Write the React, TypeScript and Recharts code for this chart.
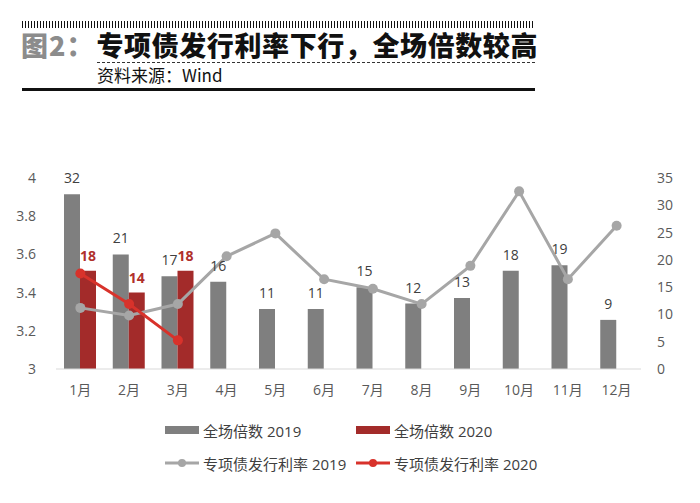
import React from "react";
import {
  ComposedChart,
  Bar,
  Line,
  XAxis,
  YAxis,
  LabelList,
} from "recharts";

const months = ["1月", "2月", "3月", "4月", "5月", "6月", "7月", "8月", "9月", "10月", "11月", "12月"];
const multiple2019 = [32, 21, 17, 16, 11, 11, 15, 12, 13, 18, 19, 9];
const multiple2020 = [18, 14, 18, null, null, null, null, null, null, null, null, null];
const rate2019 = [3.32, 3.28, 3.34, 3.59, 3.71, 3.47, 3.42, 3.34, 3.54, 3.93, 3.47, 3.75];
const rate2020 = [3.5, 3.34, 3.15, null, null, null, null, null, null, null, null, null];
const leftTicks = [3, 3.2, 3.4, 3.6, 3.8, 4];
const rightTicks = [0, 5, 10, 15, 20, 25, 30, 35];

const data = months.map((m, i) => ({
  month: m,
  m2019: multiple2019[i],
  m2020: multiple2020[i],
  r2019: rate2019[i],
  r2020: rate2020[i],
}));

const GRAY_BAR = "#7f7f7f";
const RED_BAR = "#a32b2a";
const GRAY_LINE = "#a6a6a6";
const RED_LINE = "#d8322b";
const FONT = "'Open Sans', 'Noto Sans CJK SC', sans-serif";
const CJK = "'Noto Sans CJK SC', sans-serif";

function Header() {
  return (
    <>
      <div
        style={{
          position: "absolute",
          left: 22,
          top: 21,
          width: 513,
          height: 7,
          background: "repeating-linear-gradient(90deg, #111 0 1px, #fff 1px 3px)",
        }}
      />
      <div
        style={{
          position: "absolute",
          left: 21,
          top: 27,
          fontFamily: CJK,
          fontWeight: 900,
          fontSize: 27,
          lineHeight: "36px",
          whiteSpace: "nowrap",
          color: "#111",
        }}
      >
        <span style={{ color: "#8c8c8c", letterSpacing: 1 }}>图2：</span>
        <span style={{ marginLeft: 2, letterSpacing: 0.6 }}>专项债发行利率下行，全场倍数较高</span>
      </div>
      <div
        style={{
          position: "absolute",
          left: 97,
          top: 62,
          width: 438,
          borderTop: "1px dashed #333",
        }}
      />
      <div
        style={{
          position: "absolute",
          left: 97,
          top: 64,
          fontFamily: CJK,
          fontSize: 17,
          lineHeight: "22px",
          color: "#111",
        }}
      >
        资料来源：Wind
      </div>
      <div
        style={{
          position: "absolute",
          left: 22,
          top: 88,
          width: 513,
          height: 3,
          background: "#111",
        }}
      />
    </>
  );
}

function LegendItem({ x, y, kind, color, text }: { x: number; y: number; kind: "bar" | "line"; color: string; text: string }) {
  return (
    <div
      style={{
        position: "absolute",
        left: x,
        top: y - 11,
        height: 22,
        display: "flex",
        alignItems: "center",
        fontFamily: FONT,
        fontSize: 15,
        color: "#404040",
        whiteSpace: "nowrap",
      }}
    >
      {kind === "bar" ? (
        <div style={{ width: 34, height: 8, background: color, marginRight: 4 }} />
      ) : (
        <svg width={34} height={10} style={{ marginRight: 4 }}>
          <line x1={0} y1={5} x2={34} y2={5} stroke={color} strokeWidth={3} />
          <circle cx={17} cy={5} r={4} fill={color} />
        </svg>
      )}
      {text}
    </div>
  );
}

export default function App() {
  return (
    <div style={{ position: "absolute", left: 0, top: 0, width: 700, height: 503, background: "#fff" }}>
      <Header />
      <div style={{ position: "absolute", left: 0, top: 0 }}>
        <ComposedChart
          width={700}
          height={503}
          data={data}
          margin={{ top: 178, right: 0, bottom: 104, left: 0 }}
          barGap={0}
        >
          <XAxis
            dataKey="month"
            axisLine={{ stroke: "#d9d9d9" }}
            tickLine={false}
            tick={{ fontSize: 14, fill: "#595959", fontFamily: FONT }}
            tickMargin={10}
            height={30}
            yAxisId="right"
          />
          <YAxis
            yAxisId="left"
            domain={[3, 4]}
            ticks={leftTicks}
            tickFormatter={(v: number) => String(v)}
            axisLine={false}
            tickLine={false}
            tick={{ fontSize: 14, fill: "#595959", fontFamily: FONT }}
            width={56}
            tickMargin={14}
          />
          <YAxis
            yAxisId="right"
            orientation="right"
            domain={[0, 35]}
            ticks={rightTicks}
            axisLine={false}
            tickLine={false}
            tick={{ fontSize: 14, fill: "#595959", fontFamily: FONT, textAnchor: "start" }}
            width={59}
            tickMargin={10}
          />
          <Bar yAxisId="right" dataKey="m2019" fill={GRAY_BAR} barSize={16} isAnimationActive={false}>
            <LabelList dataKey="m2019" position="top" offset={11} fill="#404040" fontSize={14} fontFamily={FONT} />
          </Bar>
          <Bar yAxisId="right" dataKey="m2020" fill={RED_BAR} barSize={16} isAnimationActive={false}>
            <LabelList
              dataKey="m2020"
              position="top"
              offset={10}
              fill="#b0302b"
              fontSize={14}
              fontWeight="bold"
              fontFamily={FONT}
            />
          </Bar>
          <Line
            yAxisId="left"
            dataKey="r2019"
            stroke={GRAY_LINE}
            strokeWidth={3}
            dot={{ r: 5, fill: GRAY_LINE, stroke: GRAY_LINE, strokeWidth: 0 }}
            isAnimationActive={false}
          />
          <Line
            yAxisId="left"
            dataKey="r2020"
            stroke={RED_LINE}
            strokeWidth={3}
            dot={{ r: 5, fill: RED_LINE, stroke: RED_LINE, strokeWidth: 0 }}
            isAnimationActive={false}
          />
        </ComposedChart>
      </div>
      <LegendItem x={165} y={430} kind="bar" color={GRAY_BAR} text="全场倍数 2019" />
      <LegendItem x={356} y={430} kind="bar" color={RED_BAR} text="全场倍数 2020" />
      <LegendItem x={165} y={463} kind="line" color={GRAY_LINE} text="专项债发行利率 2019" />
      <LegendItem x={356} y={463} kind="line" color={RED_LINE} text="专项债发行利率 2020" />
    </div>
  );
}
